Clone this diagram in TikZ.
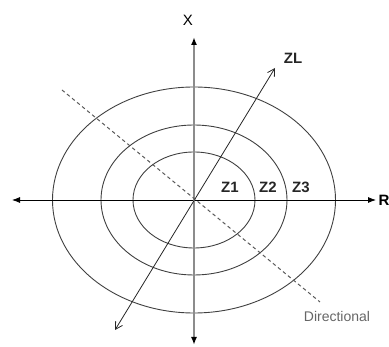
\documentclass[tikz,border=0pt]{standalone}
\usepackage{fontspec}
\setmainfont{Liberation Sans}
\usetikzlibrary{arrows.meta}
\begin{document}
\begin{tikzpicture}[x=1pt,y=-1pt,
  ring/.style={draw=black!75,line width=0.9pt},
  zlab/.style={font=\fontsize{15}{15}\selectfont\bfseries,text=black!85,inner sep=0pt},
  axis/.style={line width=0.8pt,-{Latex[length=8pt,width=6pt]}}]
\useasboundingbox (0,0) rectangle (389,347);
\coordinate (O) at (194,200);
\draw[ring] (O) ellipse [x radius=141.5,y radius=113];
\draw[ring] (O) ellipse [x radius=93,y radius=75];
\draw[ring] (O) ellipse [x radius=61,y radius=48];
% horizontal axis
\coordinate (L) at (12,200);
\coordinate (Rt) at (376,200);
\draw[axis,{Latex[length=8pt,width=6pt]}-{Latex[length=8pt,width=6pt]}] (L) -- (Rt);
% vertical axis
\coordinate (T) at (194,37);
\coordinate (B) at (194,345);
\draw[line width=1.6pt,draw=black!45,{Latex[length=8pt,width=6pt,color=black]}-{Latex[length=8pt,width=6pt,color=black]}] (B) -- (T);
% ZL line
\coordinate (ZA) at (115,330);
\coordinate (ZB) at (275,68);
\draw[line width=0.8pt,black!85,{Straight Barb[length=7pt,width=8pt]}-{Straight Barb[length=7pt,width=8pt]}] (ZA) -- (ZB);
% directional dashed
\coordinate (DA) at (62,90);
\coordinate (DB) at (320,302);
\draw[line width=1pt,black!65,dash pattern=on 3.5pt off 3pt] (DA) -- (DB);
% labels
\node[font=\fontsize{15}{15}\selectfont,inner sep=0pt] (xl) at (188,20) {X};
\node[zlab] (zl) at (293,58) {ZL};
\node[font=\fontsize{15}{15}\selectfont\bfseries,inner sep=0pt] (rl) at (384,200) {R};
\node[zlab] (z1) at (230,187) {Z1};
\node[zlab] (z2) at (268,187) {Z2};
\node[zlab] (z3) at (301,187) {Z3};
\node[font=\fontsize{14}{14}\selectfont,text=black!60,inner sep=0pt] (dl) at (337,316) {Directional};
\end{tikzpicture}
\end{document}
